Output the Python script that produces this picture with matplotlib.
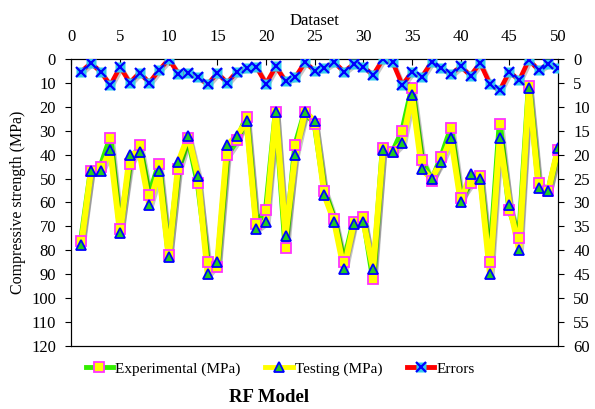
import matplotlib
matplotlib.use("Agg")
import matplotlib.pyplot as plt
import matplotlib.patheffects as pe
from matplotlib.lines import Line2D

plt.rcParams['font.family'] = ['Liberation Serif', 'DejaVu Serif']

dataset = list(range(1, 51))
experimental = [76, 47, 45, 33, 71, 44, 36, 57, 44, 82,
                46, 33, 52, 85, 87, 40, 34, 24, 69, 63,
                22, 79, 36, 22, 27, 55, 67, 85, 68, 66,
                92, 37, 39, 30, 12, 42, 51, 41, 29, 58,
                52, 49, 85, 27, 63, 75, 11, 52, 55, 38]
testing = [78, 47, 47, 38, 73, 40, 39, 61, 47, 83,
           43, 32, 49, 90, 85, 36, 32, 26, 71, 68,
           22, 74, 40, 22, 26, 57, 68, 88, 69, 68,
           88, 38, 39, 35, 15, 46, 50, 43, 33, 60,
           48, 50, 90, 33, 61, 80, 12, 54, 55, 37]
errors = [2.6, 0.8, 2.6, 5.4, 1.6, 4.9, 2.8, 4.9, 2.3, 0.0,
          3.0, 2.9, 3.8, 5.2, 2.9, 4.9, 2.6, 1.9, 1.6, 5.1,
          1.5, 4.6, 3.8, 0.6, 2.4, 1.9, 0.6, 2.6, 1.0, 1.6,
          3.3, 0.0, 0.6, 5.4, 2.6, 3.7, 0.6, 1.9, 3.1, 1.5,
          3.4, 0.8, 5.2, 6.5, 2.6, 4.4, 0.1, 2.3, 0.9, 1.9]

fig = plt.figure(figsize=(5.95, 4.09), dpi=100)
ax = fig.add_axes([0.120, 0.155, 0.818, 0.700])
ax2 = ax.twinx()

shadow = [pe.SimpleLineShadow(offset=(1.2, -1.2), alpha=0.22), pe.Normal()]

ax.plot(dataset, experimental, color='#33ee00', lw=4.3, zorder=2, path_effects=shadow)
ax.plot(dataset, testing, color='#ffff00', lw=4.3, zorder=3, path_effects=shadow)
ax.plot(dataset, experimental, ls='none', marker='s', ms=6.5, mfc='#ffff00',
        mec='#ff33ff', mew=1.3, zorder=4)
ax.plot(dataset, testing, ls='none', marker='^', ms=6.5, mfc='#22cc22',
        mec='#0000ff', mew=1.3, zorder=5)

ax2.plot(dataset, errors, color='#ff0000', lw=3.3, zorder=2, path_effects=shadow)
ax2.plot(dataset, errors, ls='none', marker='s', ms=6.5, mfc='#33ccee',
         mec='none', zorder=3)
ax2.plot(dataset, errors, ls='none', marker='x', ms=6.5, mec='#0000ff',
         mew=1.6, zorder=4)

ax.set_xlim(0, 50)
ax.set_ylim(120, 0)
ax2.set_ylim(60, 0)
ax.set_xticks(range(0, 51, 5))
ax.set_yticks(range(0, 121, 10))
ax2.set_yticks(range(0, 61, 5))

ax.xaxis.tick_top()
ax.xaxis.set_label_position('top')
ax.tick_params(axis='x', direction='in', labelsize=12, length=4, pad=10)
ax.tick_params(axis='y', direction='out', labelsize=12, length=4, pad=7)
ax2.tick_params(axis='y', direction='out', labelsize=12, length=4, pad=7)
ax.set_xlabel('Dataset', fontsize=12, labelpad=3)
ax.set_ylabel('Compressive strength (MPa)', fontsize=11.5, labelpad=4)

handles = [
    Line2D([], [], color='#33ee00', lw=3.5, marker='s', ms=6.5, mfc='#ffff00',
           mec='#ff33ff', mew=1.3),
    Line2D([], [], color='#ffff00', lw=3.5, marker='^', ms=6.5, mfc='#22cc22',
           mec='#0000ff', mew=1.3),
    (Line2D([], [], color='#ff0000', lw=3.5, marker='s', ms=6.5, mfc='#33ccee', mec='none'),
     Line2D([], [], ls='none', marker='x', ms=6.5, mec='#0000ff', mew=1.6)),
]
labels = ['Experimental (MPa)', 'Testing (MPa)', 'Errors']
fig.legend(handles, labels, loc='center', bbox_to_anchor=(0.471, 0.098), ncol=3,
           frameon=False, fontsize=11, handlelength=1.8, handletextpad=0.15,
           columnspacing=1.6)

fig.text(0.452, 0.027, 'RF Model', ha='center', va='center', fontsize=13.5,
         fontweight='bold')

fig.savefig('out.png', dpi=100)
